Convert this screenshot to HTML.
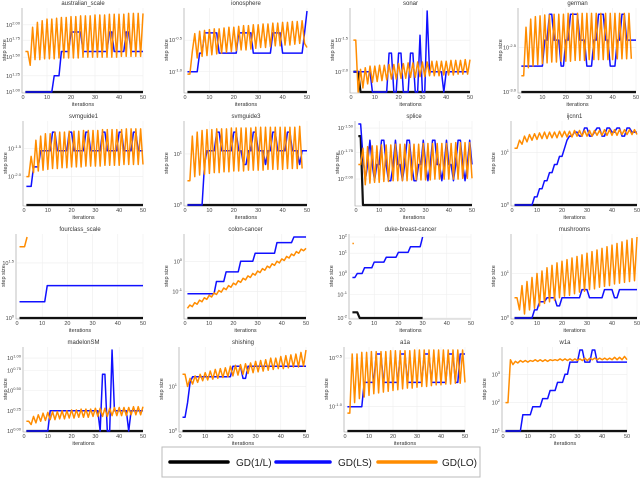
<!DOCTYPE html>
<html><head><meta charset="utf-8"><style>
body{margin:0;background:#fff;}
svg{display:block;font-family:"Liberation Sans","DejaVu Sans",sans-serif;}
</style></head><body>
<svg id="fig" width="640" height="485" viewBox="0 0 640 485">
<g id="panels"></g>
<g>
<rect x="162" y="447" width="318" height="30" fill="#fff" stroke="#bbb" stroke-width="1"/>
<line x1="170" y1="462" x2="228" y2="462" stroke="#000" stroke-width="3.5" stroke-linecap="round"/>
<text x="236" y="466" font-size="10" fill="#222">GD(1/L)</text>
<line x1="276" y1="462" x2="330" y2="462" stroke="#0a0aff" stroke-width="3.5" stroke-linecap="round"/>
<text x="338" y="466" font-size="10" fill="#222">GD(LS)</text>
<line x1="378" y1="462" x2="436" y2="462" stroke="#ff8c00" stroke-width="3.5" stroke-linecap="round"/>
<text x="442" y="466" font-size="10" fill="#222">GD(LO)</text>
</g>
</svg>
<script>
function rep(v,n){return Array(n).fill(v);}
const xTicks=[0,10,20,30,40,50];
const titles=["australian_scale","ionosphere","sonar","german","svmguide1","svmguide3","splice","ijcnn1","fourclass_scale","colon-cancer","duke-breast-cancer","mushrooms","madelonSM","shishing","a1a","w1a"];
const black_flat=rep(0,50);
const black_sonar=[.25,.25,.25,...rep(0,47)];
const black_splice=[.85,.85,...rep(0,48)];
const black_duke=[.07,.07,.07,...rep(0,27)];
const blue_australian=[...rep(0,12),...rep(.2,3),...rep(.5,4),...rep(.74,5),...rep(.5,11),...rep(.74,2),...rep(.5,5),...rep(.74,2),...rep(.5,6)];
const blue_ionosphere=[...rep(.25,5),...rep(.48,2),...rep(.73,6),...rep(.48,8),...rep(.73,6),...rep(.48,8),...rep(.73,4),...rep(.48,9),.73,1.0];
const blue_sonar=[...rep(.25,8),...rep(0,7),.48,.48,0,0,.48,.48,0,0,0,.48,.48,0,0,.7,0,0,1.0,...rep(.25,6),0,...rep(.25,10)];
const blue_german=[...rep(.32,10),...rep(.64,2),...rep(.96,2),...rep(.64,3),...rep(.32,2),...rep(.64,2),...rep(.96,4),...rep(.64,3),...rep(.32,3),...rep(.64,2),...rep(.96,3),...rep(.64,2),...rep(.32,3),...rep(.64,2),...rep(.96,2),...rep(.64,5)];
const blue_svmguide1=[.23,.23,.23,.47,.47,.47,.67,.67,.67,.67,.67,.9,.9,.67,.67,.67,.67,.67,.9,.9,.67,.67,.67,.67,.67,.9,.9,.67,.67,.67,.67,.67,.9,.9,.67,.67,.67,.67,.67,.9,.9,.67,.67,.67,.67,.9,.9,.67,.67,.67];
const blue_svmguide3=[0,0,0,0,0,0,0,.5,.67,.67,.67,.67,.9,.9,.67,.67,.67,.67,.67,.9,.9,.67,.67,.5,.5,.67,.67,.9,.9,.67,.67,.67,.5,.67,.67,.9,.9,.67,.67,.67,.67,.9,.9,.67,.67,.67,.5,.67,.67,.67];
const blue_splice=[1,1,.6,.3,.5,.8,.5,.3,.5,.5,.8,.8,.5,.3,.3,.5,.8,.5,.5,.3,.5,.8,.8,.5,.3,.3,.5,.5,.8,.5,.3,.5,.8,.8,.5,.5,.3,.5,.8,.5,.5,.3,.5,.8,.8,.5,.3,.5,.8,.5];
const blue_ijcnn1=[0,0,0,0,0,0,0,0,.1,.1,.2,.2,.3,.3,.4,.4,.5,.5,.6,.6,.7,.8,.85,.85,.9,.9,.85,.85,.95,.95,.85,.85,.9,.95,.95,.85,.85,.95,.95,.9,.9,.95,.95,.85,.85,.95,.95,.9,.9,.9];
const blue_fourclass=[...rep(.2,11),...rep(.4,39)];
const blue_colon=[...rep(.3,12),...rep(.45,4),...rep(.57,6),...rep(.7,6),...rep(.8,9),...rep(.93,7),...rep(1.0,6)];
const blue_duke=[.5,.5,.55,.55,.55,.62,.62,.62,.62,.69,.69,.69,.69,.69,.75,.75,.75,.75,.75,.81,.81,.81,.81,.81,.88,.88,.88,.88,.88,1.0];
const blue_mushrooms=[0,0,0,0,0,0,0,0,.1,.1,.2,.2,.2,.25,.25,.25,.25,.15,.15,.25,.25,.25,.25,.25,.25,.25,.25,.35,.35,.35,.25,.25,.25,.25,.25,.25,.35,.35,.35,.35,.25,.25,.35,.35,.35,.35,.35,.35,.35,.35];
const blue_madelon=[...rep(0,10),...rep(.25,21),0,.7,.7,0,0,1.0,...rep(.25,6),0,...rep(.25,6)];
const blue_shishing=[.17,.17,.35,.6,...rep(.67,16),...rep(.8,4),.65,.65,...rep(.8,24)];
const blue_a1a=[...rep(.3,7),...rep(.6,5),...rep(.95,3),...rep(.6,7),...rep(.95,3),...rep(.6,7),...rep(.95,3),...rep(.6,7),...rep(.95,3),.6,.6,.95,.95,.95];
const blue_w1a=[...rep(0,7),...rep(.2,4),...rep(.3,4),...rep(.4,3),...rep(.5,3),...rep(.6,3),...rep(.7,2),...rep(.85,4),1,1,.85,.85,.85,1,1,...rep(.85,13)];
const orange_australian=[.5,.5,.33,.8,.4,.86,.4,.88,.41,.9,.41,.9,.41,.91,.42,.92,.42,.92,.42,.93,.42,.93,.42,.94,.43,.94,.43,.94,.43,.95,.43,.95,.43,.95,.43,.96,.43,.96,.43,.96,.44,.96,.44,.97,.44,.97,.44,.97,.44,.97];
const orange_ionosphere=[.22,.22,.5,.72,.42,.75,.44,.76,.45,.77,.46,.78,.47,.78,.48,.79,.49,.8,.5,.8,.51,.81,.52,.82,.52,.82,.53,.83,.54,.83,.55,.84,.55,.84,.56,.85,.57,.85,.57,.86,.58,.86,.58,.87,.59,.87,.6,.88,.6,.55];
const orange_sonar=[.64,.64,0,.28,.05,.3,.1,.32,.12,.32,.13,.33,.14,.33,.15,.34,.16,.34,.16,.35,.17,.35,.17,.36,.18,.36,.18,.37,.19,.37,.19,.37,.2,.38,.2,.38,.2,.38,.21,.38,.21,.39,.21,.39,.22,.39,.22,.4,.22,.4];
const orange_german=[.2,.2,.8,.3,.9,.32,.93,.34,.94,.35,.95,.36,.95,.37,.96,.37,.96,.38,.96,.38,.97,.38,.97,.39,.97,.39,.97,.39,.97,.4,.97,.4,.97,.4,.97,.4,.97,.4,.97,.4,.97,.41,.97,.41,.97,.41,.97,.41];
const orange_svmguide1=[.35,.35,.6,.4,.8,.42,.85,.43,.88,.44,.88,.45,.9,.45,.9,.46,.9,.46,.91,.47,.91,.47,.91,.47,.92,.48,.92,.48,.92,.48,.92,.48,.93,.49,.93,.49,.93,.49,.93,.49,.93,.5,.94,.5,.94,.5,.94,.5,.94,.5];
const orange_svmguide3=[.3,.3,.85,.35,.9,.37,.92,.38,.93,.39,.93,.4,.94,.4,.94,.41,.94,.41,.95,.42,.95,.42,.95,.42,.95,.43,.95,.43,.96,.43,.96,.43,.96,.44,.96,.44,.96,.44,.96,.44,.96,.45,.96,.45,.96,.45,.97,.45];
const orange_splice=[.5,.5,.7,.25,.72,.27,.73,.28,.73,.28,.74,.29,.74,.29,.74,.3,.75,.3,.75,.3,.75,.3,.75,.31,.75,.31,.75,.31,.76,.31,.76,.31,.76,.32,.76,.32,.76,.32,.76,.32,.76,.32,.77,.32,.77,.33,.77,.33,.77,.33];
const orange_ijcnn1=[.7,.7,.8,.75,.85,.78,.87,.8,.88,.81,.89,.82,.9,.82,.9,.83,.9,.83,.91,.84,.91,.84,.91,.84,.92,.85,.92,.85,.92,.85,.92,.85,.92,.86,.92,.86,.93,.86,.93,.86,.93,.86,.93,.87,.93,.87,.93,.87,.93,.87];
const orange_fourclass=[.88,.88,.88,1.0];
const orange_colon=[.12,.16,.14,.19,.17,.22,.2,.25,.23,.28,.26,.31,.29,.34,.32,.37,.35,.4,.38,.43,.41,.46,.44,.49,.47,.52,.5,.55,.53,.58,.56,.61,.59,.64,.62,.67,.65,.7,.68,.73,.71,.76,.74,.79,.77,.82,.8,.85,.83,.86];
const orange_duke=[.92];
const orange_mushrooms=[.25,.25,.1,.4,.05,.45,.1,.5,.12,.55,.15,.58,.18,.62,.2,.65,.22,.68,.25,.7,.27,.72,.28,.74,.3,.76,.32,.78,.33,.8,.35,.82,.36,.84,.38,.86,.39,.88,.4,.9,.42,.92,.43,.94,.44,.96,.45,.98,.46,1.0];
const orange_madelon=[.12,.12,.08,.18,.1,.2,.12,.22,.13,.23,.14,.24,.14,.24,.15,.25,.15,.25,.16,.26,.16,.26,.17,.27,.17,.27,.17,.27,.18,.28,.18,.28,.18,.28,.18,.28,.19,.29,.19,.29,.19,.29,.19,.29,.2,.3,.2,.3,.2,.3];
const orange_shishing=[.7,.7,.55,.65,.58,.68,.6,.7,.62,.72,.63,.74,.64,.76,.65,.77,.66,.78,.67,.8,.68,.81,.69,.82,.7,.83,.71,.84,.72,.86,.73,.87,.74,.88,.75,.9,.76,.9,.77,.92,.77,.93,.78,.94,.79,.95,.79,.97,.8,1.0];
const orange_a1a=[.22,.22,.95,.35,.95,.4,.97,.42,.97,.44,.98,.46,.98,.47,.98,.48,.98,.49,.99,.5,.99,.51,.99,.52,.99,.53,.99,.53,1,.54,1,.55,1,.55,1,.56,1,.57,1,.57,1,.58,1,.58,1,.59,1,.59,1,.6];
const orange_w1a=[.35,.35,.88,.82,.86,.84,.87,.85,.87,.85,.87,.86,.88,.86,.88,.86,.88,.86,.88,.87,.88,.87,.89,.87,.89,.87,.89,.87,.89,.87,.89,.87,.9,.87,.9,.88,.9,.88,.9,.88,.9,.88,.9,.88,.91,.88,.91,.88,.92,.88];
const yTickFracs=[[0,.2,.43,.64,.83],[.25,.64],[.25,.64],[0,.55],[.35,.7],[0,.63],[.32,.65,.95],[0,.65],[0,.68],[.33,.7],[0,.29,.55,.8,1],[0,.55],[0,.25,.5,.75,.9],[0,.55],[.3,.9],[0,.35,.7]];
const yTickExps=[["1.00","1.25","1.50","1.75","2.00"],["-1.0","-0.5"],["-2.0","-1.5"],["-3.0","-2.5"],["-2.0","-1.5"],["0","1"],["-2.00","-1.75","-1.50"],["0","1"],["0","1.5"],["-1","0"],["-2","-1","0","1","2"],["0","1"],["0.00","0.25","0.50","0.75","1.00"],["0","1"],["-1.0","-0.5"],["1","2","3"]];
const blackSeries=[black_flat,black_flat,black_sonar,black_flat,black_flat,black_flat,black_splice,black_flat,black_flat,black_flat,black_duke,black_flat,black_flat,black_flat,black_flat,black_flat];
const blueSeries=[blue_australian,blue_ionosphere,blue_sonar,blue_german,blue_svmguide1,blue_svmguide3,blue_splice,blue_ijcnn1,blue_fourclass,blue_colon,blue_duke,blue_mushrooms,blue_madelon,blue_shishing,blue_a1a,blue_w1a];
const orangeSeries=[orange_australian,orange_ionosphere,orange_sonar,orange_german,orange_svmguide1,orange_svmguide3,orange_splice,orange_ijcnn1,orange_fourclass,orange_colon,orange_duke,orange_mushrooms,orange_madelon,orange_shishing,orange_a1a,orange_w1a];

const rowTops=[8,121,234,347];
const colX=[[[23,143],[185,307],[351,470],[519,636]],[[24,143],[185,307],[356,472],[512,637]],[[17,143],[185,306],[350,471],[512,637]],[[24,143],[180,306],[345,465],[503,627]]];
const PH=84;
const NS="http://www.w3.org/2000/svg";
const root=document.getElementById('panels');
function mk(tag,attrs,parent){const e=document.createElementNS(NS,tag);for(const k in attrs)e.setAttribute(k,attrs[k]);parent.appendChild(e);return e;}

titles.forEach((t,i)=>{
  const r=Math.floor(i/4),c=i%4;
  const [x0,x50]=colX[r][c];
  const top=rowTops[r],bot=top+PH;
  const sx=v=>x0+(x50-x0)*v/50;
  const sy=f=>bot-f*(PH-3);
  const g=mk('g',{},root);
  
  
  xTicks.forEach(v=>{ if(v>0){const l=mk('line',{x1:sx(v),x2:sx(v),y1:top,y2:bot,stroke:'#eee','stroke-width':0.6},g);
     }
    const tx=mk('text',{x:sx(v),y:bot+7,'font-size':5.5,'text-anchor':'middle',fill:'#444'},g);
    tx.textContent=v;
     
  });
  yTickFracs[i].forEach((f,k)=>{
    const l=mk('line',{x1:x0,x2:x50,y1:sy(f),y2:sy(f),stroke:'#eee','stroke-width':0.6},g);
     
    const tx=mk('text',{x:x0-3,y:sy(f)+2,'font-size':5.5,'text-anchor':'end',fill:'#444'},g);
     
    tx.appendChild(document.createTextNode('10'));
    const sp=mk('tspan',{dy:-2.5,'font-size':4},tx); sp.textContent=yTickExps[i][k];
  });
  const ax=mk('path',{d:`M${x0-1},${top} V${bot+1} H${x50}`,fill:'none',stroke:'#999','stroke-width':0.6},g);
   
  const tt=mk('text',{x:(x0+x50)/2,y:top-3,'font-size':6,'text-anchor':'middle',fill:'#333'},g);
  tt.textContent=t;  
  const xl=mk('text',{x:(x0+x50)/2,y:bot+14,'font-size':5.5,'text-anchor':'middle',fill:'#333'},g);
  xl.textContent='iterations';  
  const ylx=Math.max(x0-17,5);
  const yl=mk('text',{x:0,y:0,'font-size':5.5,'text-anchor':'middle',fill:'#333',transform:`translate(${ylx},${top+PH/2}) rotate(-90)`},g);
  yl.textContent='step size';  
  const draw=(arr,col,w,name)=>{
    if(arr.length===1){const l=mk('line',{x1:sx(1),x2:sx(1.6),y1:sy(arr[0]),y2:sy(arr[0]),stroke:col,'stroke-width':w},g);
        return;}
    let d='';arr.forEach((v,k)=>{if(v==null)return;d+=(d?'L':'M')+sx(k+1).toFixed(2)+','+sy(v).toFixed(2);});
    const p=mk('path',{d:d,fill:'none',stroke:col,'stroke-width':w,'stroke-linejoin':'round'},g);
     
  };
  draw(blackSeries[i],'#111',2.2,'series-gd-1l');
  draw(blueSeries[i],'#1010ff',1.5,'series-gd-ls');
  draw(orangeSeries[i],'#ff8c00',1.5,'series-gd-lo');
});
</script>
</body></html>
